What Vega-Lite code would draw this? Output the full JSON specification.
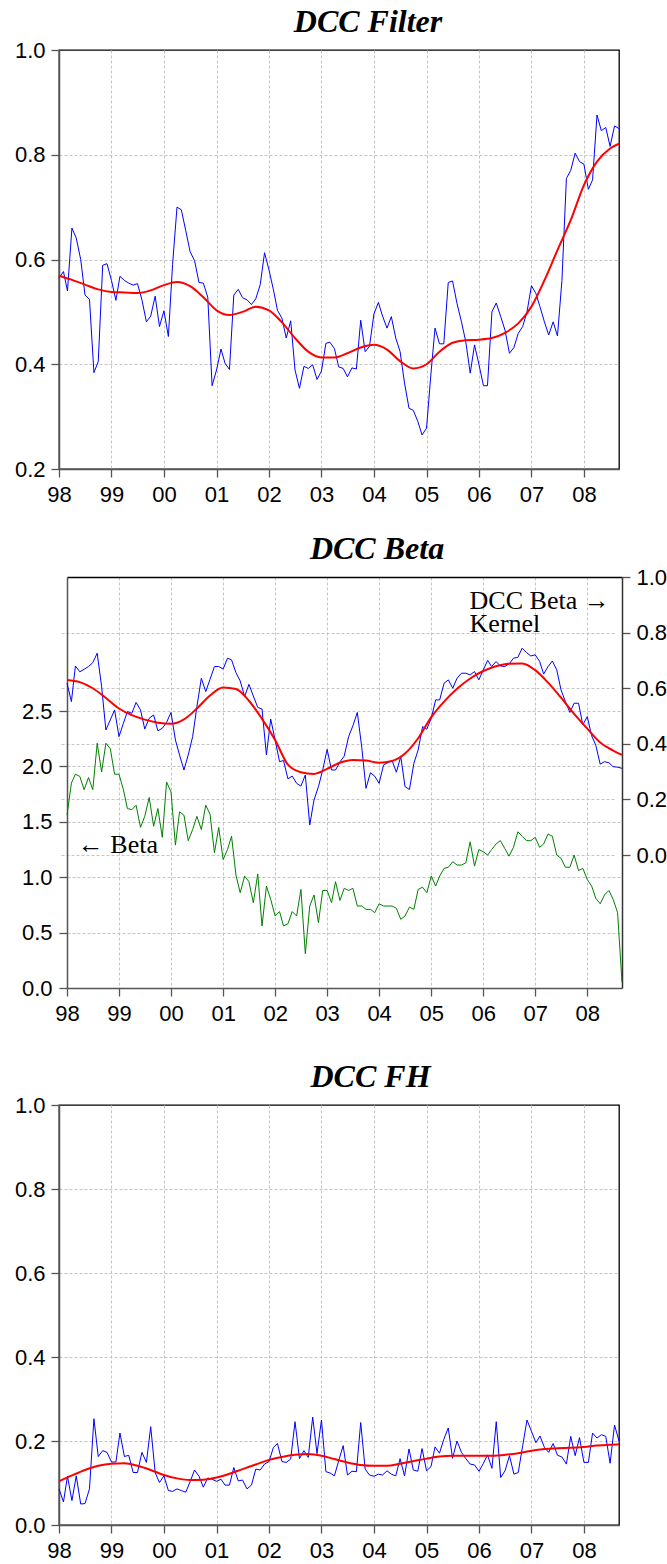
{
"$schema":"https://vega.github.io/schema/vega-lite/v6.json",
"background":"white",
"padding":{"left":13,"top":5,"right":0,"bottom":0},
"autosize":{"type":"pad"},
"config":{
 "font":"Liberation Sans",
 "view":{"stroke":"#000","strokeWidth":1.3},
 "axis":{"labelFont":"Liberation Sans","labelFontSize":22,"labelColor":"#000","tickColor":"#555","tickSize":8,"tickWidth":1.3,"domainColor":"#555","domainWidth":1.5,"gridColor":"#c4c4c4","gridDash":[3,2],"gridWidth":1,"labelFlush":false,"labelOverlap":false},
 "title":{"font":"Liberation Serif","fontSize":32,"fontWeight":"bold","fontStyle":"italic","color":"#000","baseline":"alphabetic"}
},
"datasets":{
"m":[
{"d":"1998/01/01","f":0.565,"b":0.618,"g":1.56,"h":0.086},
{"d":"1998/02/01","f":0.577,"b":0.552,"g":1.85,"h":0.055},
{"d":"1998/03/01","f":0.540,"b":0.680,"g":1.93,"h":0.116},
{"d":"1998/04/01","f":0.660,"b":0.659,"g":1.91,"h":0.058},
{"d":"1998/05/01","f":0.641,"b":0.668,"g":1.79,"h":0.117},
{"d":"1998/06/01","f":0.600,"b":0.678,"g":1.90,"h":0.050},
{"d":"1998/07/01","f":0.532,"b":0.692,"g":1.79,"h":0.051},
{"d":"1998/08/01","f":0.524,"b":0.726,"g":2.21,"h":0.086},
{"d":"1998/09/01","f":0.384,"b":0.606,"g":1.95,"h":0.253},
{"d":"1998/10/01","f":0.405,"b":0.450,"g":2.21,"h":0.163},
{"d":"1998/11/01","f":0.589,"b":0.486,"g":2.16,"h":0.177},
{"d":"1998/12/01","f":0.592,"b":0.522,"g":1.93,"h":0.173},
{"d":"1999/01/01","f":0.560,"b":0.426,"g":1.93,"h":0.150},
{"d":"1999/02/01","f":0.522,"b":0.474,"g":1.79,"h":0.150},
{"d":"1999/03/01","f":0.568,"b":0.516,"g":1.62,"h":0.219},
{"d":"1999/04/01","f":0.560,"b":0.510,"g":1.61,"h":0.163},
{"d":"1999/05/01","f":0.555,"b":0.549,"g":1.65,"h":0.166},
{"d":"1999/06/01","f":0.551,"b":0.522,"g":1.45,"h":0.125},
{"d":"1999/07/01","f":0.554,"b":0.453,"g":1.55,"h":0.125},
{"d":"1999/08/01","f":0.523,"b":0.492,"g":1.72,"h":0.173},
{"d":"1999/09/01","f":0.481,"b":0.504,"g":1.46,"h":0.149},
{"d":"1999/10/01","f":0.492,"b":0.447,"g":1.62,"h":0.234},
{"d":"1999/11/01","f":0.530,"b":0.456,"g":1.36,"h":0.125},
{"d":"1999/12/01","f":0.472,"b":0.477,"g":1.86,"h":0.101},
{"d":"2000/01/01","f":0.502,"b":0.513,"g":1.77,"h":0.117},
{"d":"2000/02/01","f":0.453,"b":0.414,"g":1.29,"h":0.082},
{"d":"2000/03/01","f":0.590,"b":0.360,"g":1.59,"h":0.080},
{"d":"2000/04/01","f":0.700,"b":0.306,"g":1.56,"h":0.086},
{"d":"2000/05/01","f":0.695,"b":0.360,"g":1.33,"h":0.082},
{"d":"2000/06/01","f":0.655,"b":0.426,"g":1.43,"h":0.078},
{"d":"2000/07/01","f":0.615,"b":0.534,"g":1.55,"h":0.103},
{"d":"2000/08/01","f":0.598,"b":0.636,"g":1.43,"h":0.131},
{"d":"2000/09/01","f":0.556,"b":0.588,"g":1.65,"h":0.116},
{"d":"2000/10/01","f":0.555,"b":0.632,"g":1.57,"h":0.090},
{"d":"2000/11/01","f":0.528,"b":0.678,"g":1.22,"h":0.112},
{"d":"2000/12/01","f":0.359,"b":0.678,"g":1.45,"h":0.109},
{"d":"2001/01/01","f":0.389,"b":0.669,"g":1.16,"h":0.104},
{"d":"2001/02/01","f":0.429,"b":0.708,"g":1.25,"h":0.109},
{"d":"2001/03/01","f":0.402,"b":0.702,"g":1.37,"h":0.095},
{"d":"2001/04/01","f":0.390,"b":0.656,"g":1.02,"h":0.095},
{"d":"2001/05/01","f":0.532,"b":0.626,"g":0.86,"h":0.137},
{"d":"2001/06/01","f":0.543,"b":0.570,"g":1.01,"h":0.105},
{"d":"2001/07/01","f":0.527,"b":0.614,"g":0.96,"h":0.107},
{"d":"2001/08/01","f":0.523,"b":0.572,"g":0.77,"h":0.086},
{"d":"2001/09/01","f":0.514,"b":0.531,"g":1.03,"h":0.095},
{"d":"2001/10/01","f":0.525,"b":0.525,"g":0.56,"h":0.133},
{"d":"2001/11/01","f":0.552,"b":0.360,"g":0.92,"h":0.131},
{"d":"2001/12/01","f":0.613,"b":0.489,"g":0.80,"h":0.145},
{"d":"2002/01/01","f":0.580,"b":0.414,"g":0.65,"h":0.151},
{"d":"2002/02/01","f":0.542,"b":0.336,"g":0.69,"h":0.185},
{"d":"2002/03/01","f":0.503,"b":0.340,"g":0.56,"h":0.194},
{"d":"2002/04/01","f":0.488,"b":0.274,"g":0.58,"h":0.151},
{"d":"2002/05/01","f":0.450,"b":0.284,"g":0.69,"h":0.149},
{"d":"2002/06/01","f":0.483,"b":0.258,"g":0.65,"h":0.157},
{"d":"2002/07/01","f":0.389,"b":0.248,"g":0.89,"h":0.246},
{"d":"2002/08/01","f":0.354,"b":0.288,"g":0.31,"h":0.158},
{"d":"2002/09/01","f":0.396,"b":0.108,"g":0.74,"h":0.177},
{"d":"2002/10/01","f":0.392,"b":0.198,"g":0.84,"h":0.161},
{"d":"2002/11/01","f":0.399,"b":0.246,"g":0.59,"h":0.257},
{"d":"2002/12/01","f":0.371,"b":0.306,"g":0.88,"h":0.170},
{"d":"2003/01/01","f":0.387,"b":0.380,"g":0.88,"h":0.250},
{"d":"2003/02/01","f":0.440,"b":0.306,"g":0.77,"h":0.127},
{"d":"2003/03/01","f":0.442,"b":0.306,"g":0.96,"h":0.124},
{"d":"2003/04/01","f":0.430,"b":0.335,"g":0.79,"h":0.117},
{"d":"2003/05/01","f":0.395,"b":0.356,"g":0.90,"h":0.153},
{"d":"2003/06/01","f":0.392,"b":0.426,"g":0.88,"h":0.189},
{"d":"2003/07/01","f":0.376,"b":0.465,"g":0.90,"h":0.119},
{"d":"2003/08/01","f":0.393,"b":0.513,"g":0.74,"h":0.128},
{"d":"2003/09/01","f":0.391,"b":0.388,"g":0.74,"h":0.127},
{"d":"2003/10/01","f":0.484,"b":0.240,"g":0.71,"h":0.244},
{"d":"2003/11/01","f":0.424,"b":0.296,"g":0.71,"h":0.133},
{"d":"2003/12/01","f":0.434,"b":0.284,"g":0.68,"h":0.119},
{"d":"2004/01/01","f":0.496,"b":0.258,"g":0.76,"h":0.116},
{"d":"2004/02/01","f":0.518,"b":0.324,"g":0.74,"h":0.121},
{"d":"2004/03/01","f":0.492,"b":0.332,"g":0.74,"h":0.119},
{"d":"2004/04/01","f":0.469,"b":0.340,"g":0.74,"h":0.129},
{"d":"2004/05/01","f":0.491,"b":0.298,"g":0.72,"h":0.121},
{"d":"2004/06/01","f":0.450,"b":0.354,"g":0.62,"h":0.117},
{"d":"2004/07/01","f":0.424,"b":0.246,"g":0.65,"h":0.158},
{"d":"2004/08/01","f":0.364,"b":0.236,"g":0.73,"h":0.117},
{"d":"2004/09/01","f":0.316,"b":0.330,"g":0.71,"h":0.181},
{"d":"2004/10/01","f":0.312,"b":0.378,"g":0.89,"h":0.131},
{"d":"2004/11/01","f":0.291,"b":0.462,"g":0.91,"h":0.128},
{"d":"2004/12/01","f":0.265,"b":0.453,"g":0.86,"h":0.182},
{"d":"2005/01/01","f":0.278,"b":0.492,"g":1.01,"h":0.129},
{"d":"2005/02/01","f":0.383,"b":0.558,"g":0.92,"h":0.139},
{"d":"2005/03/01","f":0.469,"b":0.558,"g":1.01,"h":0.186},
{"d":"2005/04/01","f":0.439,"b":0.618,"g":1.08,"h":0.171},
{"d":"2005/05/01","f":0.439,"b":0.630,"g":1.09,"h":0.204},
{"d":"2005/06/01","f":0.556,"b":0.600,"g":1.14,"h":0.231},
{"d":"2005/07/01","f":0.559,"b":0.636,"g":1.11,"h":0.159},
{"d":"2005/08/01","f":0.516,"b":0.654,"g":1.11,"h":0.200},
{"d":"2005/09/01","f":0.481,"b":0.654,"g":1.13,"h":0.173},
{"d":"2005/10/01","f":0.443,"b":0.648,"g":1.32,"h":0.158},
{"d":"2005/11/01","f":0.383,"b":0.660,"g":1.10,"h":0.145},
{"d":"2005/12/01","f":0.437,"b":0.630,"g":1.25,"h":0.143},
{"d":"2006/01/01","f":0.399,"b":0.666,"g":1.23,"h":0.128},
{"d":"2006/02/01","f":0.359,"b":0.700,"g":1.20,"h":0.147},
{"d":"2006/03/01","f":0.359,"b":0.678,"g":1.25,"h":0.167},
{"d":"2006/04/01","f":0.500,"b":0.696,"g":1.30,"h":0.135},
{"d":"2006/05/01","f":0.517,"b":0.680,"g":1.33,"h":0.246},
{"d":"2006/06/01","f":0.491,"b":0.678,"g":1.26,"h":0.113},
{"d":"2006/07/01","f":0.465,"b":0.687,"g":1.19,"h":0.129},
{"d":"2006/08/01","f":0.421,"b":0.708,"g":1.27,"h":0.165},
{"d":"2006/09/01","f":0.432,"b":0.711,"g":1.41,"h":0.121},
{"d":"2006/10/01","f":0.459,"b":0.744,"g":1.37,"h":0.125},
{"d":"2006/11/01","f":0.472,"b":0.728,"g":1.33,"h":0.189},
{"d":"2006/12/01","f":0.500,"b":0.716,"g":1.33,"h":0.250},
{"d":"2007/01/01","f":0.550,"b":0.720,"g":1.36,"h":0.223},
{"d":"2007/02/01","f":0.535,"b":0.696,"g":1.27,"h":0.196},
{"d":"2007/03/01","f":0.510,"b":0.651,"g":1.30,"h":0.212},
{"d":"2007/04/01","f":0.481,"b":0.678,"g":1.39,"h":0.185},
{"d":"2007/05/01","f":0.456,"b":0.698,"g":1.37,"h":0.173},
{"d":"2007/06/01","f":0.481,"b":0.666,"g":1.20,"h":0.194},
{"d":"2007/07/01","f":0.454,"b":0.594,"g":1.17,"h":0.166},
{"d":"2007/08/01","f":0.560,"b":0.552,"g":1.09,"h":0.162},
{"d":"2007/09/01","f":0.755,"b":0.513,"g":1.09,"h":0.145},
{"d":"2007/10/01","f":0.770,"b":0.546,"g":1.20,"h":0.211},
{"d":"2007/11/01","f":0.803,"b":0.546,"g":1.06,"h":0.165},
{"d":"2007/12/01","f":0.787,"b":0.468,"g":1.08,"h":0.208},
{"d":"2008/01/01","f":0.782,"b":0.498,"g":0.98,"h":0.149},
{"d":"2008/02/01","f":0.734,"b":0.429,"g":0.92,"h":0.149},
{"d":"2008/03/01","f":0.752,"b":0.395,"g":0.81,"h":0.219},
{"d":"2008/04/01","f":0.876,"b":0.327,"g":0.76,"h":0.207},
{"d":"2008/05/01","f":0.846,"b":0.336,"g":0.84,"h":0.215},
{"d":"2008/06/01","f":0.852,"b":0.332,"g":0.88,"h":0.211},
{"d":"2008/07/01","f":0.816,"b":0.318,"g":0.80,"h":0.147},
{"d":"2008/08/01","f":0.855,"b":0.316,"g":0.68,"h":0.238},
{"d":"2008/09/01","f":0.850,"b":0.312,"g":0.05,"h":0.200}
],
"k":[
{"d":"1998/01/01","k1":0.569,"k2":0.630,"k3":0.104},
{"d":"1998/04/01","k1":0.561,"k2":0.622,"k3":0.118},
{"d":"1998/07/01","k1":0.552,"k2":0.600,"k3":0.131},
{"d":"1998/10/01","k1":0.543,"k2":0.565,"k3":0.141},
{"d":"1999/01/01","k1":0.538,"k2":0.527,"k3":0.146},
{"d":"1999/04/01","k1":0.537,"k2":0.503,"k3":0.147},
{"d":"1999/07/01","k1":0.536,"k2":0.487,"k3":0.141},
{"d":"1999/10/01","k1":0.541,"k2":0.476,"k3":0.131},
{"d":"2000/01/01","k1":0.551,"k2":0.472,"k3":0.119},
{"d":"2000/04/01","k1":0.557,"k2":0.488,"k3":0.111},
{"d":"2000/07/01","k1":0.549,"k2":0.527,"k3":0.107},
{"d":"2000/10/01","k1":0.528,"k2":0.574,"k3":0.108},
{"d":"2001/01/01","k1":0.503,"k2":0.603,"k3":0.113},
{"d":"2001/04/01","k1":0.494,"k2":0.597,"k3":0.122},
{"d":"2001/07/01","k1":0.500,"k2":0.555,"k3":0.133},
{"d":"2001/10/01","k1":0.510,"k2":0.490,"k3":0.144},
{"d":"2002/01/01","k1":0.503,"k2":0.414,"k3":0.155},
{"d":"2002/04/01","k1":0.480,"k2":0.325,"k3":0.162},
{"d":"2002/07/01","k1":0.450,"k2":0.298,"k3":0.167},
{"d":"2002/10/01","k1":0.424,"k2":0.292,"k3":0.169},
{"d":"2003/01/01","k1":0.413,"k2":0.310,"k3":0.165},
{"d":"2003/04/01","k1":0.413,"k2":0.332,"k3":0.157},
{"d":"2003/07/01","k1":0.421,"k2":0.342,"k3":0.149},
{"d":"2003/10/01","k1":0.432,"k2":0.340,"k3":0.143},
{"d":"2004/01/01","k1":0.437,"k2":0.332,"k3":0.141},
{"d":"2004/04/01","k1":0.428,"k2":0.338,"k3":0.141},
{"d":"2004/07/01","k1":0.406,"k2":0.365,"k3":0.146},
{"d":"2004/10/01","k1":0.392,"k2":0.420,"k3":0.152},
{"d":"2005/01/01","k1":0.400,"k2":0.496,"k3":0.158},
{"d":"2005/04/01","k1":0.424,"k2":0.552,"k3":0.163},
{"d":"2005/07/01","k1":0.441,"k2":0.598,"k3":0.165},
{"d":"2005/10/01","k1":0.446,"k2":0.635,"k3":0.165},
{"d":"2006/01/01","k1":0.447,"k2":0.662,"k3":0.165},
{"d":"2006/04/01","k1":0.450,"k2":0.679,"k3":0.165},
{"d":"2006/07/01","k1":0.460,"k2":0.688,"k3":0.167},
{"d":"2006/10/01","k1":0.478,"k2":0.689,"k3":0.171},
{"d":"2007/01/01","k1":0.510,"k2":0.665,"k3":0.177},
{"d":"2007/04/01","k1":0.560,"k2":0.620,"k3":0.181},
{"d":"2007/07/01","k1":0.618,"k2":0.566,"k3":0.183},
{"d":"2007/10/01","k1":0.675,"k2":0.508,"k3":0.184},
{"d":"2008/01/01","k1":0.742,"k2":0.455,"k3":0.186},
{"d":"2008/04/01","k1":0.787,"k2":0.405,"k3":0.189},
{"d":"2008/07/01","k1":0.812,"k2":0.376,"k3":0.191},
{"d":"2008/09/01","k1":0.821,"k2":0.360,"k3":0.192}
]
},
"spacing":27,
"vconcat":[
{
 "width":560,"height":419,
 "title":{"text":"DCC Filter","offset":0,"dx":29},
 "layer":[
  {"data":{"name":"m"},"mark":{"type":"line","color":"#0000ff","strokeWidth":1},
   "encoding":{
    "x":{"field":"d","type":"temporal","scale":{"domain":[{"year":1998,"month":1,"date":1},{"year":2008,"month":9,"date":1}]},
     "axis":{"title":null,"format":"%y","grid":true,"labelPadding":7,"values":[{"year":1998,"month":1,"date":1},{"year":1999,"month":1,"date":1},{"year":2000,"month":1,"date":1},{"year":2001,"month":1,"date":1},{"year":2002,"month":1,"date":1},{"year":2003,"month":1,"date":1},{"year":2004,"month":1,"date":1},{"year":2005,"month":1,"date":1},{"year":2006,"month":1,"date":1},{"year":2007,"month":1,"date":1},{"year":2008,"month":1,"date":1}]}},
    "y":{"field":"f","type":"quantitative","scale":{"domain":[0.2,1.0],"nice":false,"zero":false},
     "axis":{"title":null,"values":[0.2,0.4,0.6,0.8,1.0],"format":".1f","labelPadding":6,"grid":true,"gridOpacity":{"condition":{"test":"datum.value >= 0.999","value":0},"value":1}}}}},
  {"data":{"name":"k"},"mark":{"type":"line","color":"#ff0000","strokeWidth":2,"interpolate":"monotone"},
   "encoding":{"x":{"field":"d","type":"temporal"},"y":{"field":"k1","type":"quantitative"}}}
 ]
},
{
 "width":563,"height":411,
 "view":{"stroke":null},
 "title":{"text":"DCC Beta","offset":0,"dx":36.5},
 "layer":[
  {"data":{"name":"m"},"mark":{"type":"line","color":"#008000","strokeWidth":1},
   "encoding":{
    "x":{"field":"d","type":"temporal","scale":{"domain":[{"year":1998,"month":1,"date":1},{"year":2008,"month":9,"date":1}],"range":[8,563]},
     "axis":{"orient":"bottom","title":".","titleOpacity":0,"titleFontSize":2,"titlePadding":7,"format":"%y","grid":true,"labelPadding":7,"values":[{"year":1998,"month":1,"date":1},{"year":1999,"month":1,"date":1},{"year":2000,"month":1,"date":1},{"year":2001,"month":1,"date":1},{"year":2002,"month":1,"date":1},{"year":2003,"month":1,"date":1},{"year":2004,"month":1,"date":1},{"year":2005,"month":1,"date":1},{"year":2006,"month":1,"date":1},{"year":2007,"month":1,"date":1},{"year":2008,"month":1,"date":1}]}},
    "y":{"field":"g","type":"quantitative","scale":{"domain":[0,3.71],"nice":false,"zero":false},
     "axis":{"orient":"left","title":null,"offset":-8,"values":[0,0.5,1.0,1.5,2.0,2.5],"format":".1f","labelPadding":7,"grid":true}}}},
  {"data":{"name":"m"},"mark":{"type":"line","color":"#0000ff","strokeWidth":1},
   "encoding":{
    "x":{"field":"d","type":"temporal","axis":{"orient":"top","title":null,"labels":false,"ticks":false,"grid":false,"domain":true,"domainColor":"#000","domainWidth":1.3}},
    "y":{"field":"b","type":"quantitative","scale":{"domain":[-0.478,1.0],"nice":false,"zero":false},
     "axis":{"orient":"right","title":null,"values":[0,0.2,0.4,0.6,0.8,1.0],"format":".1f","labelPadding":6,"grid":true,"domainColor":"#333","gridOpacity":{"condition":{"test":"datum.value >= 0.999","value":0},"value":1}}}}},
  {"data":{"name":"k"},"mark":{"type":"line","color":"#ff0000","strokeWidth":2,"interpolate":"monotone"},
   "encoding":{
    "x":{"field":"d","type":"temporal","axis":null},
    "y":{"field":"k2","type":"quantitative","scale":{"domain":[-0.478,1.0],"nice":false,"zero":false},"axis":null}}},
  {"data":{"values":[{}]},"mark":{"type":"text","text":["DCC Beta →","Kernel"],"font":"Liberation Serif","fontSize":26,"align":"left","baseline":"alphabetic","lineHeight":22.4,"color":"#000"},
   "encoding":{
    "x":{"datum":{"year":2005,"month":9,"date":27},"type":"temporal","axis":null},
    "y":{"datum":0.884,"type":"quantitative","scale":{"domain":[-0.478,1.0],"nice":false,"zero":false},"axis":null}}},
  {"data":{"values":[{}]},"mark":{"type":"text","text":"← Beta","font":"Liberation Serif","fontSize":26,"align":"left","baseline":"alphabetic","color":"#000"},
   "encoding":{
    "x":{"datum":{"year":1998,"month":3,"date":18},"type":"temporal","axis":null},
    "y":{"datum":1.216,"type":"quantitative","scale":{"domain":[0,3.71],"nice":false,"zero":false},"axis":null}}}
 ],
 "resolve":{"scale":{"y":"independent"},"axis":{"x":"independent","y":"independent"}}
},
{
 "width":560,"height":420,
 "title":{"text":"DCC FH","offset":0,"dx":31.5},
 "layer":[
  {"data":{"name":"m"},"mark":{"type":"line","color":"#0000ff","strokeWidth":1},
   "encoding":{
    "x":{"field":"d","type":"temporal","scale":{"domain":[{"year":1998,"month":1,"date":1},{"year":2008,"month":9,"date":1}]},
     "axis":{"title":null,"format":"%y","grid":true,"labelPadding":7,"values":[{"year":1998,"month":1,"date":1},{"year":1999,"month":1,"date":1},{"year":2000,"month":1,"date":1},{"year":2001,"month":1,"date":1},{"year":2002,"month":1,"date":1},{"year":2003,"month":1,"date":1},{"year":2004,"month":1,"date":1},{"year":2005,"month":1,"date":1},{"year":2006,"month":1,"date":1},{"year":2007,"month":1,"date":1},{"year":2008,"month":1,"date":1}]}},
    "y":{"field":"h","type":"quantitative","scale":{"domain":[0,1.0],"nice":false,"zero":false},
     "axis":{"title":null,"values":[0,0.2,0.4,0.6,0.8,1.0],"format":".1f","labelPadding":6,"grid":true,"gridOpacity":{"condition":{"test":"datum.value >= 0.999","value":0},"value":1}}}}},
  {"data":{"name":"k"},"mark":{"type":"line","color":"#ff0000","strokeWidth":2,"interpolate":"monotone"},
   "encoding":{"x":{"field":"d","type":"temporal"},"y":{"field":"k3","type":"quantitative"}}}
 ]
}
]
}
